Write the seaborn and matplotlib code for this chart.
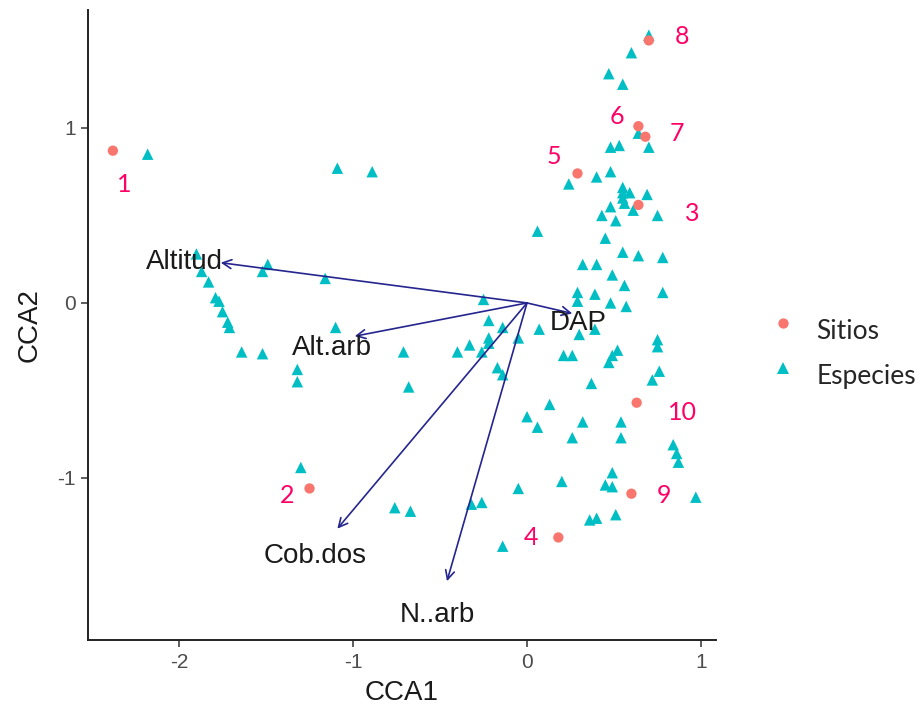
import numpy as np
import pandas as pd
import matplotlib
matplotlib.use("Agg")
import matplotlib.pyplot as plt
import matplotlib.transforms as mtransforms
import seaborn as sns

# ---------------- data ----------------
especies_x = [-2.18, -1.09, -0.89, -1.90, -1.87, -1.83, -1.79, -1.77, -1.75, -1.72,
              -1.71, -1.64, -1.52, -1.52, -1.49, -1.16, -1.10, -1.32, -1.32, -0.71,
              -0.68, -1.30, -0.76, -0.67, -0.32, -0.26, 0.70, 0.60, 0.47, 0.55,
              0.64, 0.48, 0.53, 0.70, 0.24, 0.40, 0.48, 0.55, 0.55, 0.55,
              0.56, 0.59, 0.69, 0.61, 0.48, 0.43, 0.51, 0.75, 0.06, 0.45,
              0.55, 0.64, 0.78, 0.32, 0.40, 0.49, 0.56, 0.78, 0.29, 0.39,
              0.29, 0.48, 0.57, -0.25, -0.22, -0.14, 0.07, -0.22, -0.22, -0.33,
              -0.40, -0.26, -0.05, -0.17, -0.14, 0.30, 0.39, 0.21, 0.26, 0.52,
              0.49, 0.47, 0.75, 0.75, 0.76, 0.72, 0.37, 0.13, 0.00, 0.06,
              0.32, 0.26, 0.54, 0.54, 0.84, 0.86, 0.87, 0.49, 0.45, 0.49,
              0.20, -0.05, 0.36, 0.40, 0.51, -0.14, 0.97]
especies_y = [0.85, 0.77, 0.75, 0.28, 0.18, 0.12, 0.03, 0.01, -0.05, -0.11,
              -0.14, -0.28, -0.29, 0.18, 0.22, 0.14, -0.14, -0.38, -0.45, -0.28,
              -0.48, -0.94, -1.17, -1.19, -1.15, -1.14, 1.53, 1.43, 1.31, 1.25,
              0.97, 0.89, 0.90, 0.89, 0.68, 0.72, 0.75, 0.66, 0.63, 0.60,
              0.57, 0.63, 0.62, 0.53, 0.55, 0.50, 0.47, 0.50, 0.41, 0.37,
              0.29, 0.27, 0.26, 0.22, 0.22, 0.16, 0.10, 0.06, 0.06, 0.05,
              0.01, 0.00, -0.02, 0.02, -0.10, -0.14, -0.15, -0.20, -0.23, -0.24,
              -0.28, -0.28, -0.20, -0.37, -0.41, -0.18, -0.15, -0.30, -0.30, -0.27,
              -0.30, -0.34, -0.21, -0.25, -0.39, -0.44, -0.46, -0.58, -0.65, -0.71,
              -0.68, -0.77, -0.68, -0.77, -0.81, -0.86, -0.91, -0.97, -1.04, -1.05,
              -1.02, -1.06, -1.24, -1.23, -1.21, -1.39, -1.11]

sitios_id = ["1", "2", "3", "4", "5", "6", "7", "8", "9", "10"]
sitios_x = [-2.38, -1.25, 0.64, 0.18, 0.29, 0.64, 0.68, 0.70, 0.60, 0.63]
sitios_y = [0.87, -1.06, 0.56, -1.34, 0.74, 1.01, 0.95, 1.50, -1.09, -0.57]

variables = ["Altitud", "Alt.arb", "DAP", "Cob.dos", "N..arb"]
var_x = [-1.76, -0.99, 0.26, -1.09, -0.46]
var_y = [0.23, -0.19, -0.06, -1.29, -1.59]

x_ticks = [-2, -1, 0, 1]
y_ticks = [-1, 0, 1]

# ---------------- styling ----------------
sns.set_theme(style="white")
plt.rcParams["font.family"] = ["Liberation Sans", "DejaVu Sans"]

# pixel offsets of the site number labels (annotation placement)
lab_dx = [11, -22, 54, -27, -24, -21, 32, 33, 33, 46]
lab_dy = [-34, -7, -9, 0, 17, 10, 3, 4, -2, -10]
# pixel offsets of the variable labels
var_dx = [0, -2, 1, 1, 0]
var_dy = [-4, -8, -8, 0, 0]

W, H = 922, 712
fig = plt.figure(figsize=(W / 100, H / 100), dpi=100)
ax = fig.add_axes([88 / W, 1 - 640 / H, (716 - 88) / W, (640 - 10) / H])

df = pd.concat([
    pd.DataFrame({"CCA1": especies_x, "CCA2": especies_y, "tipo": "Especies"}),
    pd.DataFrame({"CCA1": sitios_x, "CCA2": sitios_y, "tipo": "Sitios"}),
], ignore_index=True)

palette = {"Sitios": "#F8766D", "Especies": "#00BFC4"}
sns.scatterplot(data=df, x="CCA1", y="CCA2", hue="tipo", style="tipo", size="tipo",
                hue_order=["Sitios", "Especies"], style_order=["Sitios", "Especies"],
                size_order=["Sitios", "Especies"],
                sizes={"Sitios": 55, "Especies": 68},
                markers={"Sitios": "o", "Especies": "^"}, palette=palette,
                linewidth=0, ax=ax, zorder=2)

# biplot arrows
arrow_col = "#25258F"
for name, vx, vy, dx, dy in zip(variables, var_x, var_y, var_dx, var_dy):
    ax.annotate("", xy=(vx, vy), xytext=(0, 0),
                arrowprops=dict(arrowstyle="->", color=arrow_col, lw=1.2,
                                shrinkA=0, shrinkB=0, mutation_scale=16),
                zorder=3)
    ax.annotate(name, xy=(vx * 1.12, vy * 1.12), xytext=(dx, dy),
                textcoords="offset pixels", ha="center", va="center",
                fontsize=20, color="#1A1A1A", zorder=4)

# site numbers
for sid, sx, sy, dx, dy in zip(sitios_id, sitios_x, sitios_y, lab_dx, lab_dy):
    ax.annotate(sid, xy=(sx, sy), xytext=(dx, dy), textcoords="offset pixels",
                ha="center", va="center", fontsize=18, color="#FF0066",
                family=["Lato", "DejaVu Sans"], zorder=4)

ax.set_xlim(-2.523, 1.086)
ax.set_ylim(-1.926, 1.674)
ax.set_xticks(x_ticks)
ax.set_yticks(y_ticks)
ax.set_xticklabels([str(t) for t in x_ticks])
ax.set_yticklabels([str(t) for t in y_ticks])

for s in ["top", "right"]:
    ax.spines[s].set_visible(False)
for s in ["left", "bottom"]:
    ax.spines[s].set_color("#222222")
    ax.spines[s].set_linewidth(1.4)
ax.tick_params(axis="both", which="major", length=5, width=1.1, color="#333333",
               labelsize=15, labelcolor="#4D4D4D", direction="out", pad=4,
               bottom=True, left=True)
ax.set_xlabel("CCA1", fontsize=20, color="#1A1A1A", labelpad=6)
ax.set_ylabel("CCA2", fontsize=20, color="#1A1A1A", labelpad=10)

handles, labels = ax.get_legend_handles_labels()
leg = ax.legend(handles, labels, loc="center left",
                bbox_to_anchor=(767 / W, 1 - 347 / H), bbox_transform=fig.transFigure,
                frameon=False, handletextpad=0.68, labelspacing=0.75,
                borderpad=0, borderaxespad=0, handlelength=1.2,
                prop={"family": ["Lato", "DejaVu Sans"], "size": 19})
# legend texts sit slightly below their keys in the reference
shift = mtransforms.ScaledTranslation(0, -7 / 100, fig.dpi_scale_trans)
for txt in leg.get_texts():
    txt.set_transform(txt.get_transform() + shift)

fig.savefig("out.png", dpi=100)
